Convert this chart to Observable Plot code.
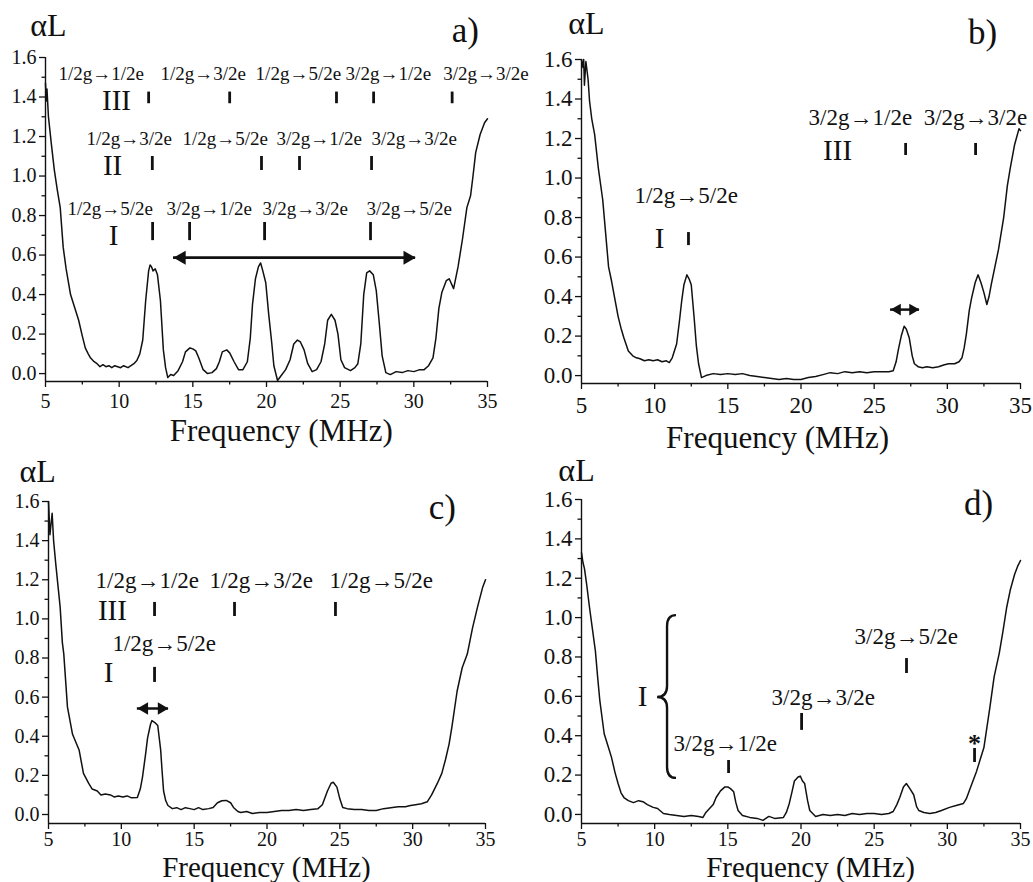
<!DOCTYPE html>
<html><head><meta charset="utf-8">
<script src="https://cdn.jsdelivr.net/npm/d3@7"></script>
<script src="https://cdn.jsdelivr.net/npm/@observablehq/plot@0.6"></script>
<style>
body{margin:0;background:#fff;}
#root{position:relative;width:1033px;height:882px;background:#fff;overflow:hidden;}
#root > svg{position:absolute;overflow:visible;}
</style></head><body><div id="root"></div>
<script>
// ---------- data ----------
const majorX = [5, 10, 15, 20, 25, 30, 35];
const minorX = [7.5, 12.5, 17.5, 22.5, 27.5, 32.5];
const majorY = [0, 0.2, 0.4, 0.6, 0.8, 1.0, 1.2, 1.4, 1.6];
const minorY = [0.1, 0.3, 0.5, 0.7, 0.9, 1.1, 1.3, 1.5];

const freqA = [5.0,5.05,5.1,5.2,5.4,5.6,5.8,6.0,6.2,6.4,
  6.7,7.0,7.25,7.5,7.7,7.9,8.05,8.3,8.5,8.7,
  8.9,9.1,9.3,9.5,9.7,9.9,10.1,10.3,10.6,10.8,
  11.0,11.2,11.4,11.6,11.8,12.0,12.1,12.2,12.3,12.45,
  12.6,12.8,13.0,13.15,13.3,13.5,13.7,14.0,14.3,14.5,
  14.8,15.0,15.2,15.4,15.7,16.0,16.3,16.6,16.8,17.0,
  17.3,17.5,17.8,18.1,18.4,18.7,18.9,19.05,19.25,19.45,
  19.6,19.75,19.95,20.15,20.35,20.5,20.75,21.0,21.3,21.6,
  21.85,22.1,22.3,22.55,22.8,23.1,23.4,23.7,23.95,24.15,
  24.4,24.65,24.85,25.05,25.3,25.7,26.0,26.2,26.4,26.6,
  26.8,27.0,27.25,27.45,27.65,27.85,28.1,28.4,28.8,29.2,
  29.6,30.0,30.4,30.7,31.0,31.3,31.5,31.7,31.9,32.2,
  32.4,32.7,33.0,33.3,33.6,33.85,34.0,34.2,34.5,34.8,35.0];
const alphaA = [1.47,1.38,1.44,1.30,1.16,1.03,0.93,0.84,0.64,0.53,
  0.40,0.33,0.27,0.19,0.13,0.10,0.08,0.06,0.05,0.035,
  0.045,0.035,0.04,0.03,0.04,0.035,0.03,0.04,0.03,0.04,
  0.05,0.066,0.10,0.17,0.37,0.52,0.55,0.54,0.52,0.53,
  0.50,0.37,0.12,0.03,-0.02,-0.005,-0.01,0.015,0.06,0.11,
  0.13,0.125,0.115,0.08,0.02,0.0,0.005,0.025,0.06,0.11,
  0.12,0.105,0.06,0.02,0.02,0.06,0.18,0.35,0.48,0.54,
  0.56,0.52,0.46,0.30,0.16,0.04,-0.035,-0.01,0.02,0.07,
  0.15,0.17,0.16,0.12,0.05,0.01,0.02,0.06,0.15,0.27,
  0.30,0.27,0.20,0.07,0.03,0.015,0.03,0.05,0.15,0.40,
  0.51,0.52,0.50,0.42,0.26,0.09,0.005,-0.005,0.01,0.005,
  0.015,0.01,0.02,0.02,0.04,0.08,0.18,0.33,0.41,0.47,
  0.48,0.43,0.54,0.68,0.84,0.90,0.99,1.12,1.21,1.27,1.29];

const freqB = [5.0,5.1,5.15,5.2,5.3,5.45,5.55,5.7,5.9,6.15,
  6.45,6.65,6.85,7.05,7.3,7.5,7.7,7.9,8.2,8.5,
  8.75,9.0,9.3,9.6,9.9,10.2,10.5,10.8,11.0,11.2,
  11.5,11.7,11.85,12.0,12.2,12.35,12.5,12.7,12.85,13.0,
  13.2,13.5,14.0,14.5,15.0,15.5,16.0,16.5,17.0,17.5,
  18.0,18.5,19.0,19.5,20.0,20.5,21.0,21.5,22.0,22.5,
  23.0,23.5,24.0,24.5,25.0,25.5,26.0,26.3,26.5,26.65,
  26.85,27.05,27.2,27.4,27.6,27.75,28.0,28.3,28.6,29.0,
  29.4,29.8,30.1,30.5,30.8,31.0,31.15,31.3,31.5,31.65,
  31.9,32.1,32.3,32.5,32.7,32.85,33.0,33.25,33.5,33.85,
  34.1,34.3,34.6,34.9,35.0];
const alphaB = [1.6,1.56,1.6,1.47,1.59,1.50,1.39,1.30,1.22,1.05,
  0.89,0.72,0.55,0.48,0.38,0.30,0.24,0.19,0.125,0.10,
  0.09,0.085,0.075,0.08,0.075,0.08,0.07,0.075,0.066,0.09,
  0.16,0.28,0.38,0.46,0.51,0.49,0.46,0.29,0.15,0.06,
  -0.01,0.0,0.01,0.005,0.01,0.005,0.01,0.0,-0.005,-0.01,
  -0.015,-0.02,-0.015,-0.02,-0.02,-0.01,-0.005,0.005,0.015,0.01,
  0.02,0.015,0.02,0.015,0.02,0.02,0.02,0.025,0.07,0.13,
  0.20,0.25,0.235,0.19,0.10,0.06,0.045,0.04,0.045,0.04,
  0.045,0.055,0.06,0.06,0.07,0.09,0.14,0.21,0.33,0.39,
  0.47,0.51,0.47,0.42,0.36,0.40,0.46,0.55,0.64,0.80,
  0.96,1.05,1.17,1.25,1.24];

const freqC = [5.0,5.1,5.25,5.35,5.5,5.65,5.8,5.95,6.05,6.3,
  6.65,7.1,7.4,7.75,8.0,8.35,8.6,8.9,9.25,9.5,
  9.8,10.1,10.4,10.7,11.1,11.3,11.45,11.65,11.8,12.0,
  12.1,12.3,12.5,12.7,12.8,12.9,13.05,13.2,13.5,13.8,
  14.1,14.4,14.7,15.0,15.3,15.6,16.0,16.3,16.6,16.9,
  17.2,17.5,17.7,18.0,18.2,18.6,19.0,19.5,20.0,20.5,
  21.0,21.5,22.0,22.5,23.0,23.5,23.8,24.15,24.4,24.55,
  24.8,25.0,25.2,25.5,26.0,26.5,27.0,27.5,28.0,28.5,
  29.0,29.5,29.85,30.2,30.6,31.0,31.3,31.7,32.0,32.25,
  32.5,32.7,33.05,33.4,33.75,34.1,34.45,34.8,35.0];
const alphaC = [1.6,1.43,1.54,1.40,1.28,1.17,1.06,0.88,0.82,0.55,
  0.41,0.33,0.21,0.16,0.13,0.12,0.10,0.105,0.10,0.09,
  0.095,0.09,0.095,0.085,0.087,0.13,0.19,0.30,0.39,0.46,
  0.48,0.47,0.455,0.33,0.22,0.12,0.07,0.046,0.03,0.035,
  0.025,0.035,0.03,0.025,0.035,0.025,0.03,0.036,0.06,0.07,
  0.072,0.06,0.036,0.015,0.01,0.015,0.005,0.01,0.01,0.015,
  0.02,0.02,0.025,0.02,0.025,0.03,0.05,0.12,0.16,0.165,
  0.14,0.08,0.036,0.03,0.025,0.025,0.02,0.02,0.03,0.035,
  0.04,0.04,0.046,0.05,0.055,0.065,0.10,0.16,0.21,0.28,
  0.36,0.45,0.63,0.75,0.82,0.95,1.06,1.16,1.2];

const freqD = [5.0,5.1,5.2,5.35,5.55,5.75,5.95,6.1,6.25,6.55,
  6.8,7.05,7.3,7.5,7.7,7.9,8.2,8.55,8.9,9.2,
  9.5,9.9,10.2,10.6,11.0,11.5,12.0,12.5,13.0,13.3,
  13.5,13.75,14.0,14.2,14.5,14.8,15.0,15.2,15.4,15.55,
  15.7,16.0,16.5,17.0,17.4,17.8,18.2,18.8,19.0,19.2,
  19.4,19.55,19.8,19.95,20.1,20.25,20.45,20.6,21.0,21.5,
  22.0,22.5,23.0,23.5,24.0,24.5,25.0,25.5,26.0,26.3,
  26.55,26.75,27.0,27.2,27.45,27.7,27.9,28.05,28.4,28.8,
  29.2,29.6,30.15,30.6,31.1,31.3,31.5,31.75,32.0,32.25,
  32.5,32.7,32.9,33.2,33.55,33.8,34.05,34.3,34.6,34.8,35.0];
const alphaD = [1.33,1.28,1.25,1.17,1.05,0.94,0.83,0.70,0.58,0.41,
  0.35,0.29,0.21,0.157,0.11,0.086,0.07,0.06,0.07,0.065,
  0.05,0.036,0.03,0.005,0.0,-0.005,-0.01,-0.005,-0.01,-0.015,
  0.01,0.03,0.05,0.086,0.12,0.14,0.14,0.13,0.115,0.06,
  0.02,-0.005,-0.015,-0.02,-0.03,-0.01,-0.02,-0.015,0.01,0.056,
  0.12,0.17,0.19,0.195,0.17,0.157,0.07,0.02,-0.01,0.0,
  -0.005,0.0,-0.005,0.005,0.0,0.005,0.005,0.0,0.005,0.015,
  0.05,0.086,0.14,0.157,0.13,0.10,0.04,0.02,0.01,0.005,
  0.01,0.02,0.036,0.045,0.056,0.08,0.12,0.17,0.22,0.28,
  0.34,0.44,0.54,0.70,0.82,0.93,1.05,1.14,1.22,1.26,1.29];

// transition labels (text, anchor frequency, αL level)
const transA = [
  {t:"1/2g→1/2e", x:5.88, y:1.517}, {t:"1/2g→3/2e", x:12.8, y:1.517},
  {t:"1/2g→5/2e", x:19.26, y:1.517}, {t:"3/2g→1/2e", x:25.37, y:1.517},
  {t:"3/2g→3/2e", x:32.0, y:1.517},
  {t:"1/2g→3/2e", x:7.78, y:1.188}, {t:"1/2g→5/2e", x:14.3, y:1.188},
  {t:"3/2g→1/2e", x:20.68, y:1.188}, {t:"3/2g→3/2e", x:27.13, y:1.188},
  {t:"1/2g→5/2e", x:6.49, y:0.833}, {t:"3/2g→1/2e", x:13.21, y:0.833},
  {t:"3/2g→3/2e", x:19.73, y:0.833}, {t:"3/2g→5/2e", x:26.79, y:0.833}];
const romansA = [{t:"III", x:9.82, y:1.382}, {t:"II", x:9.55, y:1.053}, {t:"I", x:9.62, y:0.699}];
const linesA = [
  {x:12.0, y1:1.366, y2:1.425}, {x:17.5, y1:1.366, y2:1.425}, {x:24.75, y1:1.366, y2:1.425},
  {x:27.27, y1:1.366, y2:1.425}, {x:32.6, y1:1.366, y2:1.425},
  {x:12.25, y1:1.028, y2:1.099}, {x:19.66, y1:1.028, y2:1.099}, {x:22.24, y1:1.028, y2:1.099},
  {x:27.13, y1:1.028, y2:1.099},
  {x:12.27, y1:0.673, y2:0.765}, {x:14.78, y1:0.673, y2:0.765}, {x:19.87, y1:0.673, y2:0.765},
  {x:27.06, y1:0.673, y2:0.765}];
const spanA = [{x1:13.69, x2:30.12, y:0.587}];

const transB = [{t:"1/2g→5/2e", x:8.62, y:0.911}, {t:"3/2g→1/2e", x:20.52, y:1.306}, {t:"3/2g→3/2e", x:28.38, y:1.306}];
const romansB = [{t:"I", x:10.33, y:0.694}, {t:"III", x:22.5, y:1.139}];
const linesB = [{x:12.31, y1:0.658, y2:0.724}, {x:27.15, y1:1.114, y2:1.175}, {x:31.93, y1:1.114, y2:1.175}];
const spanB = [{x1:26.12, x2:28.1, y:0.334}];

const transC = [{t:"1/2g→1/2e", x:8.23, y:1.195}, {t:"1/2g→3/2e", x:16.05, y:1.195},
  {t:"1/2g→5/2e", x:24.29, y:1.195}, {t:"1/2g→5/2e", x:9.39, y:0.874}];
const romansC = [{t:"III", x:9.39, y:1.04}, {t:"I", x:9.12, y:0.726}];
const linesC = [{x:12.28, y1:1.012, y2:1.084}, {x:17.77, y1:1.012, y2:1.084}, {x:24.7, y1:1.012, y2:1.084},
  {x:12.28, y1:0.675, y2:0.752}];
const spanC = [{x1:11.1, x2:13.24, y:0.542}];

const transD = [{t:"3/2g→5/2e", x:23.66, y:0.904}, {t:"3/2g→3/2e", x:17.99, y:0.594},
  {t:"3/2g→1/2e", x:11.29, y:0.361}];
const romansD = [{t:"I", x:9.17, y:0.599}];
const starD = [{t:"*", x:31.86, y:0.36}];
const linesD = [{x:27.21, y1:0.716, y2:0.792}, {x:20.04, y1:0.427, y2:0.513},
  {x:15.05, y1:0.208, y2:0.274}, {x:31.86, y1:0.264, y2:0.335}];
const braceD = {x:10.88, xEnd:11.49, xTip:10.2, y1:0.183, y2:1.01, yMid:0.594};

// ---------- drawing ----------
const ink = "#111";
const fontFamily = "'Liberation Serif','Times New Roman',Times,serif";
const root = document.getElementById("root");

function drawPanel(c) {
  const rows = c.freq.map((f, i) => ({f, a: c.alpha[i]}));
  const txt = {fill: ink, fontFamily};
  const marks = [
    Plot.line(rows, {x: "f", y: "a", stroke: ink, strokeWidth: 1.5}),
    Plot.ruleX([5], {y1: c.yMin, y2: 1.6, stroke: ink, strokeWidth: 1.4}),
    Plot.ruleY([c.yMin], {x1: 5, x2: 35, stroke: ink, strokeWidth: 1.4}),
    Plot.axisX({ticks: majorX, tickSize: 6, tickPadding: c.padX, tickFormat: d => String(d), fontSize: c.fontX, label: null, strokeWidth: 1.3, fontFamily}),
    Plot.axisX({ticks: minorX, tickSize: 3.5, tickFormat: () => "", label: null, strokeWidth: 1.3}),
    Plot.axisY({ticks: majorY, tickSize: 6, tickPadding: 3, tickFormat: d3.format(".1f"), fontSize: c.fontY, label: null, strokeWidth: 1.3, fontFamily}),
    Plot.axisY({ticks: minorY, tickSize: 3.5, tickFormat: () => "", label: null, strokeWidth: 1.3}),
    Plot.text(c.trans, {x: "x", y: "y", text: "t", textAnchor: "start", lineAnchor: "middle", fontSize: c.annFont, ...txt}),
    Plot.text(c.romans, {x: "x", y: "y", text: "t", textAnchor: "middle", lineAnchor: "middle", fontSize: 29, ...txt}),
    Plot.ruleX(c.lines, {x: "x", y1: "y1", y2: "y2", stroke: ink, strokeWidth: 2.8}),
    Plot.text([c.xLabel], {x: d => d.x, text: () => "Frequency (MHz)", frameAnchor: "bottom", dy: c.xLabel.dy, lineAnchor: "middle", fontSize: c.xLabel.size, ...txt}),
    Plot.text([c.yTitle], {x: d => d.x, y: d => d.y, text: () => "αL", textAnchor: "middle", lineAnchor: "middle", fontSize: 32, ...txt}),
    Plot.text([c.letter], {x: d => d.x, y: d => d.y, text: d => d.t, textAnchor: "middle", lineAnchor: "middle", fontSize: 35, ...txt})
  ];
  if (c.span) {
    const h = 3 * Math.sqrt(Math.PI * c.headR * c.headR / (3 * Math.sqrt(3)));
    marks.push(
      Plot.ruleY(c.span, {y: "y", x1: d => d.x1, x2: d => d.x2, stroke: ink, strokeWidth: c.shaft}),
      Plot.dot(c.span, {x: "x2", y: "y", symbol: "triangle", r: c.headR, fill: ink, stroke: null, rotate: 90, dx: -h * 2 / 3}),
      Plot.dot(c.span, {x: "x1", y: "y", symbol: "triangle", r: c.headR, fill: ink, stroke: null, rotate: -90, dx: h * 2 / 3})
    );
  }
  if (c.star) marks.push(Plot.text(c.star, {x: "x", y: "y", text: "t", textAnchor: "middle", lineAnchor: "middle", fontSize: 26, fontWeight: "bold", ...txt}));
  const svg = Plot.plot({
    width: c.width, height: 441,
    marginLeft: c.mL, marginRight: c.mR, marginTop: c.mT, marginBottom: c.mB,
    x: {domain: [5, 35]}, y: {domain: [c.yMin, 1.6]},
    style: {fontFamily, fontSize: "20px", color: ink, background: "transparent", overflow: "visible"},
    marks
  });
  svg.style.left = c.left + "px";
  svg.style.top = c.top + "px";
  root.appendChild(svg);
  if (c.brace) {
    const sx = svg.scale("x"), sy = svg.scale("y"), b = c.brace;
    const xs = sx.apply(b.x), xe = sx.apply(b.xEnd), xt = sx.apply(b.xTip);
    const yt = sy.apply(b.y2), yb = sy.apply(b.y1), ym = sy.apply(b.yMid), r = 11;
    const p = `M${xe},${yt} Q${xs},${yt} ${xs},${yt + r} L${xs},${ym - r} Q${xs},${ym} ${xt},${ym} Q${xs},${ym} ${xs},${ym + r} L${xs},${yb - r} Q${xs},${yb} ${xe},${yb}`;
    d3.select(svg).append("path").attr("d", p).attr("fill", "none").attr("stroke", ink).attr("stroke-width", 2.4);
  }
}

drawPanel({freq: freqA, alpha: alphaA, left: 0, top: 0, width: 516, mL: 45, mR: 29, mT: 57, mB: 60, yMin: -0.04,
  fontX: 20, fontY: 20, padX: 6, annFont: 19, trans: transA, romans: romansA, lines: linesA, span: spanA, headR: 5.2, shaft: 2.8,
  xLabel: {x: 21.0, dy: 49.5, size: 31}, yTitle: {x: 5.2, y: 1.762}, letter: {t: "a)", x: 33.5, y: 1.737}});
drawPanel({freq: freqB, alpha: alphaB, left: 516, top: 0, width: 517, mL: 65, mR: 13, mT: 59, mB: 58, yMin: -0.04,
  fontX: 23, fontY: 23, padX: 7, annFont: 23, trans: transB, romans: romansB, lines: linesB, span: spanB, headR: 4.4, shaft: 2.5,
  xLabel: {x: 18.4, dy: 55, size: 31}, yTitle: {x: 5.34, y: 1.78}, letter: {t: "b)", x: 32.4, y: 1.737}});
drawPanel({freq: freqC, alpha: alphaC, left: 0, top: 441, width: 516, mL: 48, mR: 31, mT: 60, mB: 59, yMin: -0.046,
  fontX: 20, fontY: 20, padX: 2, annFont: 23, trans: transC, romans: romansC, lines: linesC, span: spanC, headR: 4.6, shaft: 2.5,
  xLabel: {x: 19.96, dy: 44, size: 29}, yTitle: {x: 4.25, y: 1.75}, letter: {t: "c)", x: 32.04, y: 1.57}});
drawPanel({freq: freqD, alpha: alphaD, left: 516, top: 441, width: 517, mL: 65, mR: 13, mT: 58, mB: 59, yMin: -0.046,
  fontX: 20, fontY: 23, padX: 2, annFont: 23, trans: transD, romans: romansD, lines: linesD, star: starD, brace: braceD,
  xLabel: {x: 20.65, dy: 44, size: 29}, yTitle: {x: 4.66, y: 1.747}, letter: {t: "d)", x: 32.14, y: 1.58}});
</script></body></html>
